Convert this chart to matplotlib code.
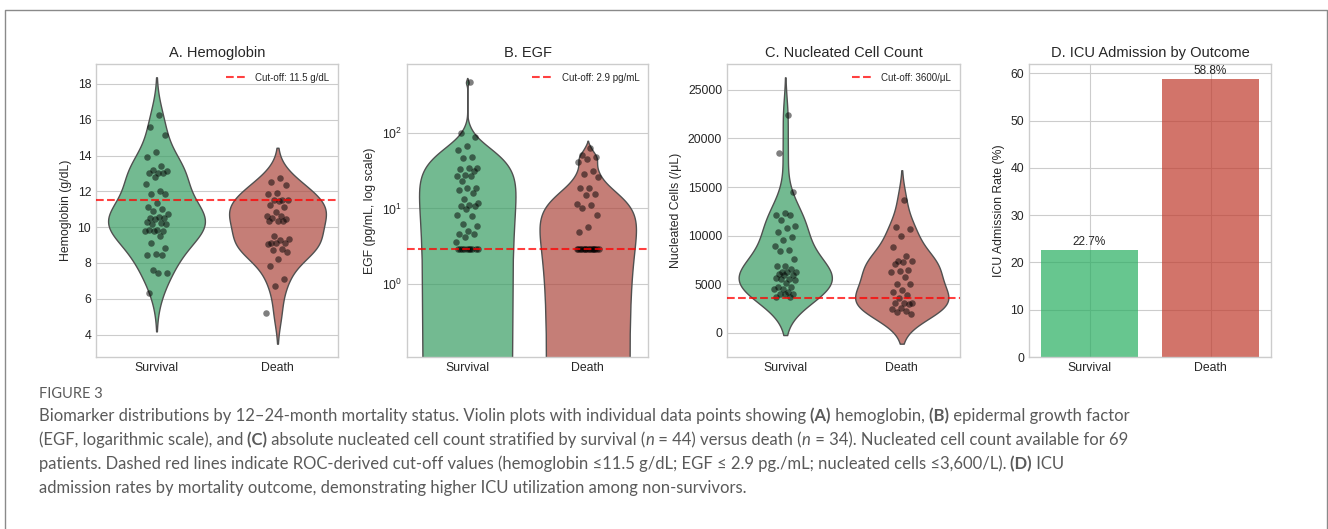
import numpy as np
import matplotlib
matplotlib.use('Agg')
import matplotlib.pyplot as plt
from matplotlib.colors import to_rgba
from matplotlib.lines import Line2D
from matplotlib.ticker import LogLocator, NullLocator

# ---- data ----
groups = ['Survival', 'Death']

hgb_survival = [16.25, 15.62, 15.12, 14.22, 13.92, 13.40, 13.18, 13.12, 13.02, 13.02, 13.02,
                12.81, 12.42, 12.01, 11.83, 11.83, 11.33, 11.12, 11.01, 10.92, 10.72, 10.56,
                10.5, 10.5, 10.45, 10.3, 10.25, 10.2, 10.2, 9.84, 9.82, 9.8, 9.8, 9.78, 9.52,
                9.13, 8.82, 8.52, 8.43, 8.43, 7.6, 7.43, 7.43, 6.3]
hgb_death = [12.72, 12.54, 12.33, 11.92, 11.83, 11.51, 11.5, 11.5, 11.45, 11.23, 11.1, 10.83,
             10.62, 10.62, 10.5, 10.44, 10.32, 10.32, 10.32, 9.52, 9.32, 9.28, 9.13, 9.1, 9.1,
             9.08, 8.8, 8.72, 8.61, 8.22, 7.81, 7.11, 6.72, 5.21]

egf_survival = [478, 102, 89, 68, 60, 48, 47, 35, 35, 34, 32, 28, 27, 27, 23, 19, 18.5, 17.4,
                16.3, 13.2, 11.7, 11, 10.7, 10.7, 9.7, 8.3, 7.9, 6.3, 5.8, 5.0, 4.6, 4.5, 4.2,
                3.6, 2.9, 2.9, 2.9, 2.9, 2.9, 2.9, 2.9, 2.9, 2.9, 2.9]
egf_death = [63, 51, 48, 45, 41, 31.5, 29, 26.4, 18.9, 18.9, 15.8, 15, 11.3, 11, 10.2, 8.3,
             5.7, 4.9, 2.9, 2.9, 2.9, 2.9, 2.9, 2.9, 2.9, 2.9, 2.9, 2.9, 2.9, 2.9, 2.9, 2.9,
             2.9, 2.9]

nc_survival = [22360, 18490, 14490, 12330, 12160, 12160, 11580, 11030, 10750, 10380, 9860,
               9520, 8900, 8490, 8390, 7600, 6920, 6920, 6580, 6300, 6270, 6270, 6100, 6000,
               5930, 5690, 5580, 5550, 5480, 5140, 4730, 4690, 4520, 4500, 4210, 4040, 4040,
               4010, 3700, 3700]
nc_death = [13630, 10890, 10650, 10000, 8870, 7880, 7400, 7400, 7330, 7120, 6510, 6370, 6230,
            5750, 5000, 5000, 4380, 4180, 3870, 3600, 3080, 3080, 3080, 3000, 2600, 2500,
            2300, 2160, 1990]

icu_rate = [22.7, 58.8]

cutoff_hgb = 11.5
cutoff_egf = 2.9
cutoff_nc = 3600

# ---- style ----
plt.style.use('seaborn-v0_8-whitegrid')
plt.rcParams['font.family'] = ['Liberation Sans', 'DejaVu Sans']
plt.rcParams['mathtext.default'] = 'regular'

violin_cols = ['#389d63', '#ad483e']
bar_cols = ['#27ae60', '#c0392b']

W, H = 1328, 529
fig = plt.figure(figsize=(W / 100, H / 100), dpi=100)


def px_axes(left, right, top=64, bottom=357):
    return fig.add_axes([left / W, 1 - bottom / H, (right - left) / W, (bottom - top) / H])


def violin(ax, vals, pos, col, log=False):
    d = np.asarray(vals, float)
    bw = d.std(ddof=1) * len(d) ** (-1 / 5)
    grid = np.linspace(d.min() - 2 * bw, d.max() + 2 * bw, 300)
    dens = np.exp(-0.5 * ((grid[:, None] - d[None, :]) / bw) ** 2).sum(axis=1)
    half = 0.4 * dens / dens.max()
    if log:
        grid = np.maximum(grid, 1e-3)
    ax.fill_betweenx(grid, pos - half, pos + half, facecolor=to_rgba(col, 0.7),
                     edgecolor='#505050', linewidth=1.0, zorder=2)
    # spread points sideways so they do not sit on one line
    off = (((np.arange(len(d)) + 1) * 0.618034) % 1 - 0.5) * 0.19
    ax.scatter(pos + off, d, s=22, color='black', alpha=0.5, linewidths=0, zorder=3)


def finish(ax, title, ylabel):
    ax.set_title(title, fontsize=10.5, pad=5)
    ax.set_ylabel(ylabel, fontsize=8.8)
    ax.set_xticks([0, 1], groups)
    ax.set_xlim(-0.5, 1.5)
    ax.tick_params(labelsize=8.8)


def cut_legend(ax):
    ax.legend(loc='upper right', fontsize=7, frameon=False, handlelength=2.2)


# A. Hemoglobin
axA = px_axes(96, 338)
violin(axA, hgb_survival, 0, violin_cols[0])
violin(axA, hgb_death, 1, violin_cols[1])
axA.axhline(cutoff_hgb, color='red', ls='--', lw=1.5, alpha=0.75, zorder=4,
            label='Cut-off: 11.5 g/dL')
axA.set_yticks(range(4, 19, 2))
finish(axA, 'A. Hemoglobin', 'Hemoglobin (g/dL)')
axA.grid(axis='x', visible=False)
cut_legend(axA)

# B. EGF
axB = px_axes(407, 648)
axB.set_yscale('log')
violin(axB, egf_survival, 0, violin_cols[0], log=True)
violin(axB, egf_death, 1, violin_cols[1], log=True)
axB.axhline(cutoff_egf, color='red', ls='--', lw=1.5, alpha=0.75, zorder=4,
            label='Cut-off: 2.9 pg/mL')
axB.set_ylim(0.105, 840)
axB.yaxis.set_major_locator(LogLocator(base=10, numticks=10))
axB.yaxis.set_minor_locator(NullLocator())
finish(axB, 'B. EGF', 'EGF (pg/mL, log scale)')
axB.grid(axis='x', visible=False)
cut_legend(axB)

# C. Nucleated cells
axC = px_axes(727, 960)
violin(axC, nc_survival, 0, violin_cols[0])
violin(axC, nc_death, 1, violin_cols[1])
axC.axhline(cutoff_nc, color='red', ls='--', lw=1.5, alpha=0.75, zorder=4,
            label='Cut-off: 3600/μL')
axC.set_yticks(range(0, 25001, 5000))
finish(axC, 'C. Nucleated Cell Count', 'Nucleated Cells (/μL)')
axC.grid(axis='x', visible=False)
cut_legend(axC)

# D. ICU admission
axD = px_axes(1029, 1271)
bars = axD.bar([0, 1], icu_rate, width=0.8, color=bar_cols, alpha=0.7)
for b, v in zip(bars, icu_rate):
    axD.text(b.get_x() + b.get_width() / 2, v + 0.4, f'{v}%', ha='center', va='bottom',
             fontsize=8.5, color='.15')
axD.set_ylim(0, 62)
finish(axD, 'D. ICU Admission by Outcome', 'ICU Admission Rate (%)')

# outer frame (open at the bottom)
x0, x1, yt = 4.5 / W, 1326.5 / W, 1 - 9.5 / H
fig.add_artist(Line2D([x0, x0, x1, x1], [0, yt, yt, 0], transform=fig.transFigure,
                      color='#8a8a8a', lw=1))

# ---- caption ----
cap_font = ['Lato', 'DejaVu Sans']
cap_col = '#5a5a5a'
caption = [
    [("Biomarker distributions by 12\u201324-month mortality status. Violin plots with individual data points showing", 'n'),
     (" (A)", 'b'), (" hemoglobin,", 'n'), (" (B)", 'b'), (" epidermal growth factor", 'n')],
    [("(EGF, logarithmic scale), and", 'n'), (" (C)", 'b'),
     (" absolute nucleated cell count stratified by survival (", 'n'), ("n", 'i'),
     (" = 44) versus death (", 'n'), ("n", 'i'),
     (" = 34). Nucleated cell count available for 69", 'n')],
    [("patients. Dashed red lines indicate ROC-derived cut-off values (hemoglobin \u226411.5 g/dL; EGF \u2264 2.9 pg./mL; nucleated cells \u22643,600/L).", 'n'),
     (" (D)", 'b'), (" ICU", 'n')],
    [("admission rates by mortality outcome, demonstrating higher ICU utilization among non-survivors.", 'n')],
]

fig.canvas.draw()
rend = fig.canvas.get_renderer()


def put_line(x_px, y_px, pieces, size, keep=True):
    x = x_px
    made = []
    for s, st in pieces:
        t = fig.text(x / W, 1 - y_px / H, s, fontsize=size, family=cap_font, color=cap_col,
                     fontweight='bold' if st == 'b' else 'normal',
                     fontstyle='italic' if st == 'i' else 'normal',
                     ha='left', va='baseline')
        x += t.get_window_extent(renderer=rend).width
        made.append(t)
    if not keep:
        for t in made:
            t.remove()
    return x - x_px


base = 10
w1 = put_line(39, 421, caption[0], base, keep=False)
cap_size = base * 1098 / w1
for i, line in enumerate(caption):
    put_line(39, 421.5 + 23.7 * i, line, cap_size)

put_line(39, 398, [("FIGURE 3", 'n')], 10.5)

fig.savefig('out.png', dpi=100)
